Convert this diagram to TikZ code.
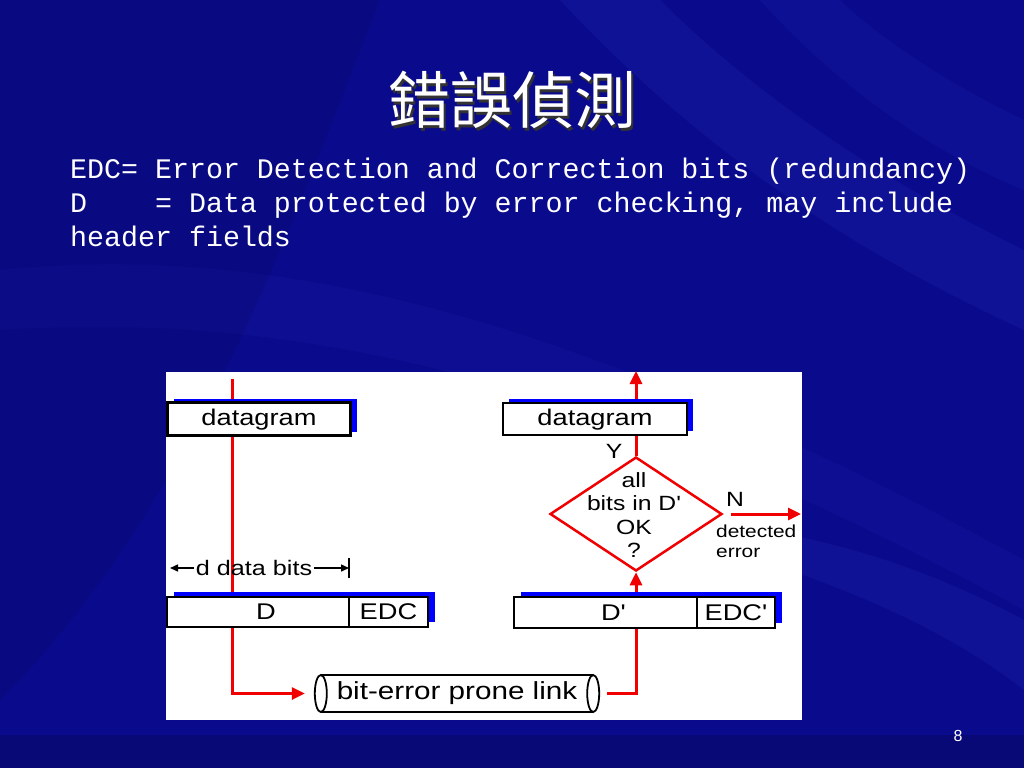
\documentclass[tikz,border=0pt]{standalone}
\usepackage{fontspec}
\setmonofont{Liberation Mono}
\newfontfamily\dsans[FakeStretch=1.2,Ligatures=TeXOff]{Liberation Sans}
\newfontfamily\plainsans{Liberation Sans}
\newfontfamily\cjk{Noto Sans CJK TC}
\usetikzlibrary{arrows.meta,shapes.geometric,calc}
\pgfdeclarelayer{bg}
\pgfdeclarelayer{lines}
\pgfdeclarelayer{shade}
\pgfsetlayers{bg,lines,shade,main}
\definecolor{bgblue}{RGB}{10,10,140}
\definecolor{streak}{RGB}{70,90,230}
\definecolor{shadowblue}{RGB}{0,0,255}
\definecolor{linkred}{RGB}{240,0,0}
\begin{document}
\begin{tikzpicture}[x=1pt,y=-1pt,
  box/.style={draw=black, line width=2.5pt, fill=white, inner sep=0pt, outer sep=0pt,
    font=\dsans\fontsize{22.7}{24}\selectfont},
  boxshade/.style={fill=shadowblue},
  redline/.style={draw=linkred, line width=3pt},
  redtip/.style={-{Triangle[length=13pt,width=12pt]}},
  dtext/.style={font=\dsans\fontsize{#1}{#1}\selectfont, inner sep=0pt},
  cyl/.style={draw=black, line width=1.8pt}
]
\useasboundingbox (0,0) rectangle (1024,768);
\begin{pgfonlayer}{bg}
  \fill[bgblue] (0,0) rectangle (1024,768);
  \fill[black, opacity=0.08] (0,0) -- (380,0) .. controls (300,200) and (200,500) .. (0,700) -- cycle;
  \fill[streak, opacity=0.10] (560,0) .. controls (700,150) and (850,250) .. (1024,330) -- (1024,250) .. controls (860,170) and (740,80) .. (660,0) -- cycle;
  \fill[streak, opacity=0.08] (760,0) .. controls (850,100) and (950,160) .. (1024,190) -- (1024,120) .. controls (960,90) and (880,40) .. (840,0) -- cycle;
  \fill[streak, opacity=0.06] (0,270) .. controls (300,240) and (600,330) .. (1024,560) -- (1024,610) .. controls (600,380) and (300,310) .. (0,330) -- cycle;
  \fill[streak, opacity=0.10] (760,560) .. controls (880,600) and (960,640) .. (1024,690) -- (1024,620) .. controls (950,580) and (860,545) .. (760,530) -- cycle;
  \fill[black, opacity=0.15] (0,735) rectangle (1024,768);
  \fill[white] (166,372) rectangle (802,720);
\end{pgfonlayer}

% title
\node[font=\cjk\fontsize{62}{62}\selectfont, text=black!80] (titleshadow) at (514.5,102.5) {錯誤偵測};
\node[font=\cjk\fontsize{62}{62}\selectfont, text=white] (title) at (512,100) {錯誤偵測};

% body text
\node[anchor=base west, text=white, inner sep=0pt, font=\ttfamily\fontsize{28.3}{34}\selectfont] (l1) at (70,178) {EDC= Error Detection and Correction bits (redundancy)};
\node[anchor=base west, text=white, inner sep=0pt, font=\ttfamily\fontsize{28.3}{34}\selectfont] (l2) at (70,212) {D~~~~= Data protected by error checking, may include};
\node[anchor=base west, text=white, inner sep=0pt, font=\ttfamily\fontsize{28.3}{34}\selectfont] (l3) at (70,246) {header fields};

% left side
\node[box, minimum width=183pt, minimum height=33pt, text depth=3pt] (dgL) at (259,419) {datagram};
\node[box, minimum width=182pt, minimum height=30pt] (dL) at (258,612) {\hspace*{16pt}D};
\node[box, anchor=west, minimum width=79pt, minimum height=30pt] (edcL) at (dL.east) {EDC};
\node[dtext=21, inner sep=2pt] (dbits) at (254,568) {d data bits};
\coordinate (dbl) at (170,568);
\coordinate (dbr) at (349,568);
\coordinate (srcL) at (232,379);

% link
\node[dtext=24.7, minimum width=272pt, minimum height=37pt] (link) at (457,693.5) {bit-error prone link};

% right side
\node[box, minimum width=184pt, minimum height=32pt, text depth=3pt] (dgR) at (595,419) {datagram};
\node[box, minimum width=183pt, minimum height=31pt] (dR) at (605.5,612.5) {\hspace*{16pt}D'};
\node[box, anchor=west, minimum width=78pt, minimum height=31pt] (edcR) at (dR.east) {EDC'};
\node[diamond, draw=linkred, line width=2.5pt, fill=white, minimum width=172pt, minimum height=114pt, inner sep=0pt] (chk) at (636,514) {};
\node[dtext=20.6, align=center, font=\dsans\fontsize{20.6}{23.5}\selectfont] (chktxt) at (634,515) {all\\bits in D'\\OK\\?};
\node[dtext=20.6] (ylab) at (614,451) {Y};
\node[dtext=20.6] (nlab) at (735,499) {N};
\node[anchor=west, align=left, inner sep=0pt, font=\dsans\fontsize{17.4}{20}\selectfont] (err) at (716,541) {detected\\error};
\coordinate (outTop) at (636,371);
\coordinate (errEnd) at (801,514);

% box shadows
\begin{pgfonlayer}{shade}
  \fill[boxshade] ($(dgL.south west)+(6,-4)$) rectangle ($(dgL.north east)+(6,-4)$);
  \fill[boxshade] ($(dgR.south west)+(6,-4)$) rectangle ($(dgR.north east)+(6,-4)$);
  \fill[boxshade] ($(dL.south west)+(7,-5)$) rectangle ($(edcL.north east)+(7,-5)$);
  \fill[boxshade] ($(dR.south west)+(7,-5)$) rectangle ($(edcR.north east)+(7,-5)$);
\end{pgfonlayer}

% connectors
\begin{pgfonlayer}{lines}
  \draw[redline, redtip, shorten >=16pt] (srcL) |- (link.west);
  \draw[redline, redtip, shorten <=14pt] (link.east) -| (chk.south);
  \draw[redline, redtip] (chk.north) -- (outTop);
  \draw[redline, redtip, shorten <=8pt] (chk.east) -- (errEnd);
  % cylinder
  \draw[cyl] (link.north west) -- (link.north east);
  \draw[cyl] (link.south west) -- (link.south east);
  \draw[cyl, fill=white] (link.west) ellipse [x radius=6, y radius=18.5];
  \draw[cyl, fill=white] (link.east) ellipse [x radius=6, y radius=18.5];
\end{pgfonlayer}
\draw[line width=1.5pt, -{Triangle[length=8pt,width=7pt]}] (dbits.west) -- (dbl);
\draw[line width=1.5pt, -{Triangle[length=8pt,width=7pt]}] (dbits.east) -- (dbr);
\draw[line width=1.5pt] ($(dbr)+(0,-10)$) -- ($(dbr)+(0,10)$);

% page number
\node[text=white, font=\plainsans\fontsize{16}{16}\selectfont] (pnum) at (958,736) {8};
\end{tikzpicture}
\end{document}
